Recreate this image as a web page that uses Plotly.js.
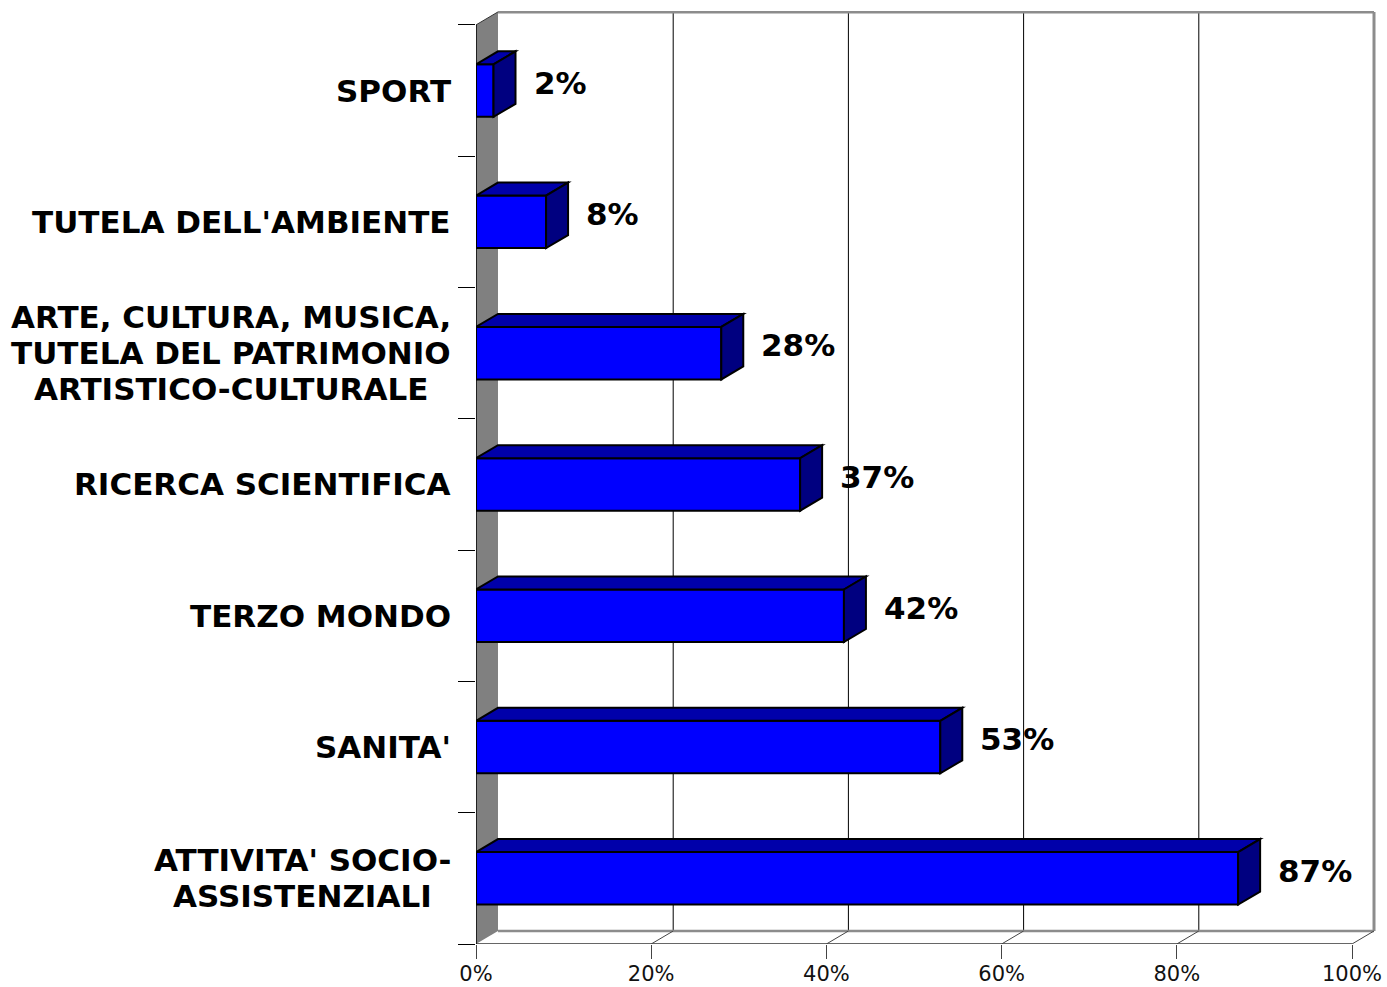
<!DOCTYPE html>
<html>
<head>
<meta charset="utf-8">
<script src="https://cdn.plot.ly/plotly-3.0.1.min.js"></script>
<style>html,body{margin:0;padding:0;background:#fff;}#chart{width:1387px;height:987px;}</style>
</head>
<body>
<div id="chart"></div>
<script>
// ---- data ----
const categories = [
  "ATTIVITA' SOCIO-<br>ASSISTENZIALI",
  "SANITA'",
  "TERZO MONDO",
  "RICERCA SCIENTIFICA",
  "ARTE, CULTURA, MUSICA,<br>TUTELA DEL PATRIMONIO<br>ARTISTICO-CULTURALE",
  "TUTELA DELL'AMBIENTE",
  "SPORT"
];
const values = [87, 53, 42, 37, 28, 8, 2];
const xTickVals = [0, 20, 40, 60, 80, 100];
const xTickText = ["0%", "20%", "40%", "60%", "80%", "100%"];

// ---- 3D look (depth offsets in axis units) ----
const DX = 2.51;   // depth along x (percent units)
const DY = 0.099;  // depth along y (category units)
const BAR_W = 0.4;
const idx = categories.map((c, i) => i);
const yMin = -0.5, yMax = categories.length - 0.5;
const boundaries = [];
for (let k = 0; k <= categories.length; k++) boundaries.push(yMin + k);

const shapes = [];
// left wall
shapes.push({type: 'path', xref: 'x', yref: 'y', layer: 'below',
  path: `M 0 ${yMin} L ${DX} ${yMin + DY} L ${DX} ${yMax + DY} L 0 ${yMax} Z`,
  fillcolor: '#808080', line: {width: 0}});
// back wall gridlines
xTickVals.slice(1, -1).forEach(v => shapes.push({type: 'line', xref: 'x', yref: 'y', layer: 'below',
  x0: v + DX, x1: v + DX, y0: yMin + DY, y1: yMax + DY, line: {color: '#000', width: 1}}));
// back wall border (top and right)
shapes.push({type: 'line', xref: 'x', yref: 'y', layer: 'below', x0: DX, x1: 100 + DX, y0: yMax + DY, y1: yMax + DY, line: {color: '#8c8c8c', width: 3}});
shapes.push({type: 'line', xref: 'x', yref: 'y', layer: 'below', x0: 100 + DX, x1: 100 + DX, y0: yMin + DY, y1: yMax + DY, line: {color: '#8c8c8c', width: 3}});
// floor back edge
shapes.push({type: 'line', xref: 'x', yref: 'y', layer: 'below', x0: DX, x1: 100 + DX, y0: yMin + DY, y1: yMin + DY, line: {color: '#8c8c8c', width: 2.5}});
// floor front edge
shapes.push({type: 'line', xref: 'x', yref: 'y', layer: 'below', x0: 0, x1: 100, y0: yMin, y1: yMin, line: {color: '#333', width: 1.5}});
// floor diagonals
xTickVals.slice(1).forEach(v => shapes.push({type: 'line', xref: 'x', yref: 'y', layer: 'below',
  x0: v, x1: v + DX, y0: yMin, y1: yMin + DY, line: {color: '#444', width: 1}}));
// wall top diagonal edge and front edge
shapes.push({type: 'line', xref: 'x', yref: 'y', layer: 'below', x0: 0, x1: DX, y0: yMax, y1: yMax + DY, line: {color: '#333', width: 1}});
shapes.push({type: 'line', xref: 'x', yref: 'y', layer: 'below', x0: 0, x1: 0, y0: yMin, y1: yMax, line: {color: '#000', width: 1.5}});

// bar top and side faces
values.forEach((v, i) => {
  const yb = i - BAR_W / 2, yt = i + BAR_W / 2;
  shapes.push({type: 'path', xref: 'x', yref: 'y', layer: 'above',
    path: `M 0 ${yt} L ${DX} ${yt + DY} L ${v + DX} ${yt + DY} L ${v} ${yt} Z`,
    fillcolor: '#0000AA', line: {color: '#000', width: 2}});
  shapes.push({type: 'path', xref: 'x', yref: 'y', layer: 'above',
    path: `M ${v} ${yb} L ${v} ${yt} L ${v + DX} ${yt + DY} L ${v + DX} ${yb + DY} Z`,
    fillcolor: '#000080', line: {color: '#000', width: 2}});
});

const annotations = [];
// category labels (centered multi-line)
categories.forEach((c, i) => {
  const lines = c.split('<br>');
  lines.forEach((ln, j) => {
    annotations.push({xref: 'x', yref: 'y', x: 0, y: i, xshift: -23,
      yshift: ((lines.length - 1) / 2 - j) * 36,
      xanchor: 'right', yanchor: 'middle', showarrow: false, align: 'center',
      text: ln, font: {family: 'DejaVu Sans', size: 31, color: '#000', weight: 'bold'}});
  });
});
// value labels
values.forEach((v, i) => {
  annotations.push({xref: 'x', yref: 'y', x: v + DX, y: i + DY * 0.6, xshift: 16,
    xanchor: 'left', yanchor: 'middle', showarrow: false,
    text: v + '%', font: {family: 'DejaVu Sans', size: 31, color: '#000', weight: 'bold'}});
});

const trace = {
  type: 'bar', orientation: 'h', x: values, y: idx, width: BAR_W,
  marker: {color: '#0000FF', line: {color: '#000', width: 2}},
  hoverinfo: 'skip'
};

const layout = {
  width: 1387, height: 987,
  margin: {l: 476, r: 8, t: 11, b: 43},
  paper_bgcolor: '#fff', plot_bgcolor: 'rgba(0,0,0,0)',
  showlegend: false,
  xaxis: {range: [0, 103.08], tickvals: xTickVals, ticktext: xTickText,
    ticks: 'outside', ticklen: 14, tickcolor: '#444', tickwidth: 1,
    ticklabelstandoff: -3,
    showgrid: false, zeroline: false, showline: false,
    tickfont: {family: 'DejaVu Sans', size: 21, color: '#111'}},
  yaxis: {range: [yMin, yMax + 0.106], tickvals: boundaries, showticklabels: false,
    ticks: 'outside', ticklen: 17, tickcolor: '#000', tickwidth: 1,
    showgrid: false, zeroline: false, showline: false},
  shapes: shapes,
  annotations: annotations
};

Plotly.newPlot('chart', [trace], layout, {displayModeBar: false, staticPlot: true}).then(gd => {
  // center the lines of each multi-line category label around the widest line
  const groups = {};
  let k = 0;
  categories.forEach((c, i) => {
    const lines = c.split('<br>');
    groups[i] = [];
    lines.forEach(() => { groups[i].push(k); k++; });
  });
  const nodes = gd.querySelectorAll('.annotation');
  const widths = [];
  nodes.forEach(n => { const t = n.querySelector('text'); widths.push(t ? t.getBBox().width : 0); });
  const upd = {};
  Object.values(groups).forEach(g => {
    if (g.length < 2) return;
    const maxW = Math.max(...g.map(a => widths[a]));
    g.forEach(a => { upd[`annotations[${a}].xshift`] = -23 - (maxW - widths[a]) / 2; });
  });
  if (Object.keys(upd).length) Plotly.relayout(gd, upd);
});
</script>
</body>
</html>
